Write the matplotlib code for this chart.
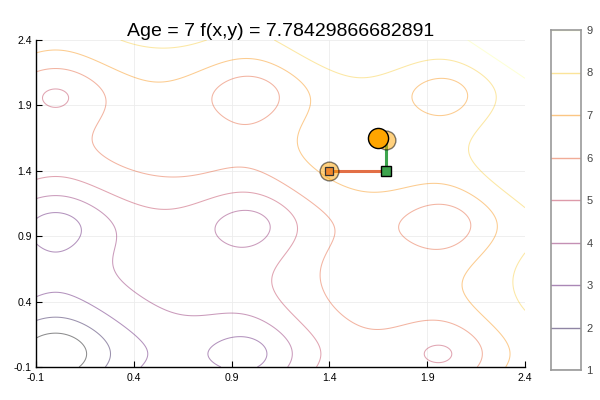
import numpy as np
import matplotlib
matplotlib.use("Agg")
import matplotlib.pyplot as plt

plt.rcParams["font.family"] = ["Liberation Sans", "DejaVu Sans"]

# ---- data ----
x_range = [-0.1, 2.4]
levels = [1, 2, 3, 4, 5, 6, 7, 8, 9]
tick_vals = [-0.1, 0.4, 0.9, 1.4, 1.9, 2.4]
tick_labels = ["-0.1", "0.4", "0.9", "1.4", "1.9", "2.4"]

parents_x = [1.40, 1.69]          # faded circles
parents_y = [1.40, 1.635]
cross_x = [1.40, 1.69]            # red line (x crossover)
cross_y = [1.40, 1.40]
mut_x = [1.69, 1.69]              # green line
mut_y = [1.40, 1.635]
child1 = (1.40, 1.40)             # orange square
child2 = (1.69, 1.40)             # green square
best = (1.65, 1.65)               # opaque orange circle
title = "Age = 7 f(x,y) = 7.78429866682891"


def ackley(x, y):
    return (-20 * np.exp(-0.2 * np.sqrt(0.5 * (x ** 2 + y ** 2)))
            - np.exp(0.5 * (np.cos(2 * np.pi * x) + np.cos(2 * np.pi * y)))
            + np.e + 20)


g = np.linspace(x_range[0], x_range[1], 300)
X, Y = np.meshgrid(g, g)
Z = ackley(X, Y)

fig = plt.figure(figsize=(6, 4), dpi=100)
ax = fig.add_axes([36 / 600, 1 - 367 / 400, (525 - 36) / 600, (367 - 40) / 400])

cmap = plt.get_cmap("inferno")
norm = matplotlib.colors.Normalize(vmin=levels[0], vmax=levels[-1])
cols = [cmap(norm(l)) for l in levels]
ax.contour(X, Y, Z, levels=levels, colors=cols, linewidths=0.75, alpha=0.45, zorder=1)

ax.plot(cross_x, cross_y, color="#e26f46", lw=2.2, zorder=3)
ax.plot(mut_x, mut_y, color="#3da44d", lw=2.2, zorder=3)
ax.plot(parents_x, parents_y, ls="none", marker="o", ms=13.5, mfc="#FFA500",
        mec="black", mew=1.0, alpha=0.5, zorder=4)
ax.plot([child1[0]], [child1[1]], ls="none", marker="s", ms=6, mfc="#f0872b",
        mec="#333333", mew=0.9, zorder=5)
ax.plot([child2[0]], [child2[1]], ls="none", marker="s", ms=6.5, mfc="#3da44d",
        mec="black", mew=1.0, zorder=5)
ax.plot([best[0]], [best[1]], ls="none", marker="o", ms=14.5, mfc="#FFA500",
        mec="black", mew=1.0, zorder=6)

ax.set_xlim(x_range)
ax.set_ylim(x_range)
ax.set_xticks(tick_vals)
ax.set_xticklabels(tick_labels)
ax.set_yticks(tick_vals)
ax.set_yticklabels(tick_labels)
ax.tick_params(direction="in", length=4, width=0.8, labelsize=7.6, colors="black")
ax.tick_params(axis="x", pad=4)
ax.tick_params(axis="y", pad=3)
ax.grid(True, color="#ececec", lw=0.6, zorder=0)
ax.set_axisbelow(True)
for s in ["top", "right"]:
    ax.spines[s].set_visible(False)
for s in ["left", "bottom"]:
    ax.spines[s].set_linewidth(1.0)
ax.set_title(title, fontsize=14, pad=0.5)

# colorbar
cax = fig.add_axes([551 / 600, 1 - 370 / 400, 30 / 600, 340 / 400])
cax.set_xlim(0, 1)
cax.set_ylim(levels[0], levels[-1])
for l, c in zip(levels, cols):
    cax.axhline(l, color=c, lw=1.0, alpha=0.5)
cax.set_xticks([])
cax.yaxis.tick_right()
cax.set_yticks(levels)
cax.set_yticklabels([str(l) for l in levels])
cax.tick_params(axis="y", length=0, labelsize=8, colors="#444444", pad=4)
for s in cax.spines.values():
    s.set_color("#999999")
    s.set_linewidth(1.2)

fig.savefig("out.png", dpi=100)
